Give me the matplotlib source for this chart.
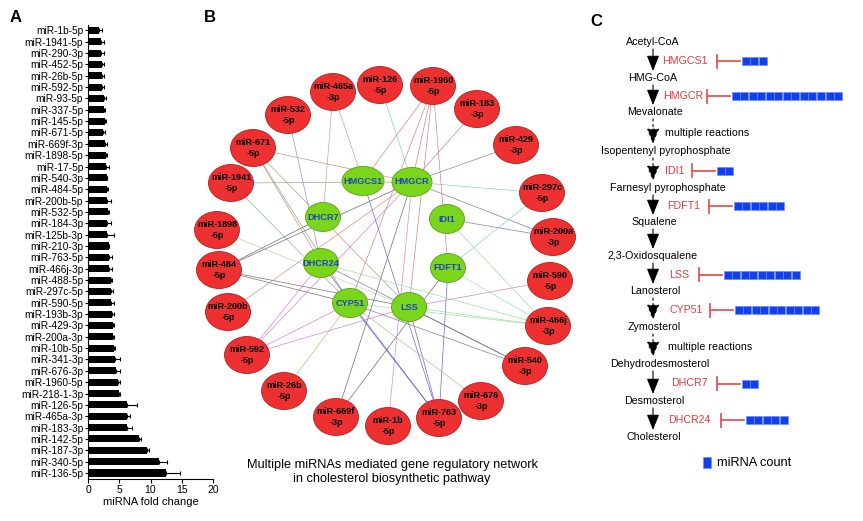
import matplotlib
matplotlib.use("Agg")
import matplotlib.pyplot as plt
from matplotlib.patches import Ellipse, Rectangle

plt.rcParams['font.family'] = ['Liberation Sans', 'DejaVu Sans']

# ---- Panel A data: miRNA fold change (top to bottom) ----
mirnas = ["miR-1b-5p", "miR-1941-5p", "miR-290-3p", "miR-452-5p", "miR-26b-5p",
          "miR-592-5p", "miR-93-5p", "miR-337-5p", "miR-145-5p", "miR-671-5p",
          "miR-669f-3p", "miR-1898-5p", "miR-17-5p", "miR-540-3p", "miR-484-5p",
          "miR-200b-5p", "miR-532-5p", "miR-184-3p", "miR-125b-3p", "miR-210-3p",
          "miR-763-5p", "miR-466j-3p", "miR-488-5p", "miR-297c-5p", "miR-590-5p",
          "miR-193b-3p", "miR-429-3p", "miR-200a-3p", "miR-10b-5p", "miR-341-3p",
          "miR-676-3p", "miR-1960-5p", "miR-218-1-3p", "miR-126-5p", "miR-465a-3p",
          "miR-183-3p", "miR-142-5p", "miR-187-3p", "miR-340-5p", "miR-136-5p"]
fold_change = [1.7, 2.07, 2.07, 2.2, 2.3, 2.3, 2.6, 2.6, 2.66, 2.45,
               2.77, 2.87, 2.87, 2.98, 3.1, 3.1, 3.14, 3.1, 3.1, 3.3,
               3.4, 3.4, 3.67, 3.72, 3.72, 3.9, 3.94, 3.94, 4.15, 4.36,
               4.47, 4.8, 4.95, 6.17, 6.2, 6.27, 8.08, 9.36, 11.4, 12.45]
fold_err = [0.6, 0.55, 0.5, 0.3, 0.25, 0.3, 0.25, 0.15, 0.2, 0.2,
            0.3, 0.2, 0.5, 0.1, 0.15, 0.55, 0.15, 0.55, 1.0, 0.1,
            0.5, 0.5, 0.1, 0.3, 0.4, 0.2, 0.2, 0.2, 0.2, 0.75,
            0.65, 0.3, 0.1, 1.65, 0.5, 0.7, 0.4, 0.35, 1.3, 2.25]

# ---- Panel B data: network ----
genes = ["HMGCS1", "HMGCR", "DHCR7", "IDI1", "DHCR24", "FDFT1", "CYP51", "LSS"]
net_mirnas = ["miR-126-5p", "miR-465a-3p", "miR-532-5p", "miR-671-5p", "miR-1941-5p",
              "miR-1898-5p", "miR-484-5p", "miR-200b-5p", "miR-592-5p", "miR-26b-5p",
              "miR-669f-3p", "miR-1b-5p", "miR-763-5p", "miR-676-3p", "miR-540-3p",
              "miR-466j-3p", "miR-590-5p", "miR-200a-3p", "miR-297c-5p", "miR-429-3p",
              "miR-183-3p", "miR-1960-5p"]
targets = {
    "miR-126-5p": ["HMGCR"],
    "miR-465a-3p": ["DHCR7", "HMGCS1"],
    "miR-532-5p": ["DHCR24"],
    "miR-671-5p": ["HMGCR", "DHCR24", "CYP51", "LSS"],
    "miR-1941-5p": ["HMGCR", "CYP51"],
    "miR-1898-5p": ["LSS"],
    "miR-484-5p": ["DHCR7", "HMGCR", "CYP51", "LSS"],
    "miR-200b-5p": ["HMGCR"],
    "miR-592-5p": ["DHCR24", "HMGCR", "LSS", "CYP51"],
    "miR-26b-5p": ["CYP51"],
    "miR-669f-3p": ["HMGCR", "FDFT1"],
    "miR-1b-5p": ["HMGCR"],
    "miR-763-5p": ["HMGCS1", "CYP51", "FDFT1", "LSS", "DHCR24"],
    "miR-676-3p": ["CYP51"],
    "miR-540-3p": ["CYP51", "LSS", "DHCR24"],
    "miR-466j-3p": ["FDFT1", "LSS", "CYP51", "DHCR24", "IDI1"],
    "miR-590-5p": ["LSS"],
    "miR-200a-3p": ["IDI1", "HMGCR"],
    "miR-297c-5p": ["HMGCR", "FDFT1"],
    "miR-429-3p": ["HMGCR"],
    "miR-183-3p": ["HMGCR"],
    "miR-1960-5p": ["HMGCS1", "HMGCR", "FDFT1", "LSS", "CYP51"],
}

# ---- Panel C data: pathway ----
metabolites = ["Acetyl-CoA", "HMG-CoA", "Mevalonate", "Isopentenyl pyrophosphate",
               "Farnesyl pyrophosphate", "Squalene", "2,3-Oxidosqualene", "Lanosterol",
               "Zymosterol", "Dehydrodesmosterol", "Desmosterol", "Cholesterol"]
step_labels = ["HMGCS1", "HMGCR", "multiple reactions", "IDI1", "FDFT1", "",
               "LSS", "CYP51", "multiple reactions", "DHCR7", "DHCR24"]
step_dashed = [False, False, True, True, False, False, False, True, True, False, False]
mirna_count = [3, 13, 0, 2, 6, 0, 9, 10, 0, 2, 5]

# ---- layout (pixels) ----
gene_pos = {"HMGCS1": (363, 181), "HMGCR": (412, 182), "DHCR7": (323, 217),
            "IDI1": (447, 219), "DHCR24": (321, 263), "FDFT1": (448, 268),
            "CYP51": (350, 303), "LSS": (409, 307)}
gene_w = {"HMGCS1": 42, "HMGCR": 40}
mir_pos = [(380, 85), (333, 92), (288, 115), (253, 148), (231, 183), (217, 230),
           (219, 270), (228, 312), (247, 355), (284, 391), (336, 417), (388, 426),
           (439, 418), (481, 401), (525, 366), (548, 326), (550, 281), (553, 237),
           (542, 193), (516, 145), (477, 109), (433, 86)]
edge_colors = ["#6cc9cc", "#cc8c8c", "#6a8fcc", "#b08a70", "#70b070", "#b0d0a0",
               "#5a5a5a", "#d47a7a", "#cc70cc", "#b0b070", "#555555", "#dd70dd",
               "#5050cc", "#b0b080", "#6a6a88", "#90dd90", "#cc70cc", "#6a6aaa",
               "#70cccc", "#7070aa", "#aa70aa", "#cc7070"]
met_x = [653, 653, 655, 666, 668, 654, 653, 655, 654, 660, 654, 654]
met_y = [42, 78, 112, 151, 188, 222, 256, 291, 327, 364, 401, 437]
label_x = [662, 663, 665, 665, 667, 0, 669, 669, 668, 671, 668]
bar_x = [717, 707, 0, 692, 709, 0, 699, 710, 0, 717, 721]
arrow_x = 653

fig = plt.figure(figsize=(8.63, 5.21), dpi=100)
ov = fig.add_axes([0, 0, 1, 1])
ov.set_xlim(0, 863)
ov.set_ylim(521, 0)
ov.axis("off")

# ---- Panel A ----
ax = fig.add_axes([88 / 863, 1 - 479 / 521, 125 / 863, 454 / 521])
ax.patch.set_visible(False)
ypos = list(range(len(mirnas)))
ax.barh(ypos, fold_change, height=0.62, color="black",
        xerr=[[0] * len(fold_err), fold_err], error_kw=dict(ecolor="black", elinewidth=0.8,
                                                              capsize=1.5, capthick=0.8))
ax.set_ylim(len(mirnas) - 0.47, -0.47)
ax.set_xlim(0, 20)
ax.set_yticks(ypos)
ax.set_yticklabels(mirnas, fontsize=7.3)
ax.set_xticks([0, 5, 10, 15, 20])
ax.tick_params(axis="x", labelsize=7.5, length=3, width=0.8, pad=1.5)
ax.tick_params(axis="y", length=2.5, width=0.8, pad=1)
ax.spines["top"].set_visible(False)
ax.spines["right"].set_visible(False)
ax.set_xlabel("miRNA fold change", fontsize=8, labelpad=1)

ov.text(10, 17, "A", fontsize=12, fontweight="bold", va="center")
ov.text(204, 17, "B", fontsize=12, fontweight="bold", va="center")
ov.text(590, 22, "C", fontsize=12, fontweight="bold", va="center")

# ---- Panel B ----
for i, m in enumerate(net_mirnas):
    x0, y0 = mir_pos[i]
    for g in targets[m]:
        x1, y1 = gene_pos[g]
        ov.plot([x0, x1], [y0, y1], color=edge_colors[i], lw=0.5, alpha=0.85, zorder=1)

for i, m in enumerate(net_mirnas):
    x0, y0 = mir_pos[i]
    ov.add_patch(Ellipse((x0, y0), 45, 37, facecolor="#ee3030", edgecolor="#b02020",
                         lw=0.6, zorder=3))
    head, tail = m.rsplit("-", 1)
    ov.text(x0, y0, head + "\n-" + tail, fontsize=6.5, fontweight="bold", ha="center",
            va="center", linespacing=1.25, zorder=4)

for g in genes:
    x0, y0 = gene_pos[g]
    ov.add_patch(Ellipse((x0, y0), gene_w.get(g, 35), 29, facecolor="#7ad61a",
                         edgecolor="#5aa010", lw=0.6, zorder=3))
    ov.text(x0, y0, g, fontsize=6.6, fontweight="bold", color="#1f45c0", ha="center",
            va="center", zorder=4)

ov.text(392, 472, "Multiple miRNAs mediated gene regulatory network\n"
        "in cholesterol biosynthetic pathway", fontsize=9.2, ha="center", va="center",
        linespacing=1.15)

# ---- Panel C ----
for i, name in enumerate(metabolites):
    ov.text(met_x[i], met_y[i], name, fontsize=7.7, ha="center", va="center")

for i, lab in enumerate(step_labels):
    y_start = met_y[i] + 7
    y_end = met_y[i + 1] - 7
    ymid = (y_start + y_end) / 2 + 1
    ov.annotate("", xy=(arrow_x, y_end), xytext=(arrow_x, y_start),
                arrowprops=dict(arrowstyle="-|>,head_length=0.95,head_width=0.38",
                                color="black", lw=0.8,
                                linestyle=(0, (2, 3)) if step_dashed[i] else "-",
                                shrinkA=0, shrinkB=0, mutation_scale=10))
    if lab == "":
        continue
    if mirna_count[i] == 0:
        ov.text(label_x[i], ymid, lab, fontsize=7.7, ha="left", va="center")
        continue
    ov.text(label_x[i], ymid, lab, fontsize=7.7, color="#e83a3a", ha="left", va="center")
    bx = bar_x[i]
    ov.plot([bx, bx], [ymid - 6.5, ymid + 6.5], color="#e85555", lw=1.3)
    ov.plot([bx, bx + 23], [ymid, ymid], color="#e85555", lw=1.3)
    for k in range(mirna_count[i]):
        ov.add_patch(Rectangle((bx + 24.5 + k * 8.55, ymid - 4), 8.0, 8,
                               facecolor="#1040f0", edgecolor="#6a86ff", lw=0.4))

ov.add_patch(Rectangle((703, 457), 7.5, 11, facecolor="#1040f0", edgecolor="#6a86ff", lw=0.4))
ov.text(717, 462.5, "miRNA count", fontsize=9.2, ha="left", va="center")

fig.savefig("out.png", dpi=100)
